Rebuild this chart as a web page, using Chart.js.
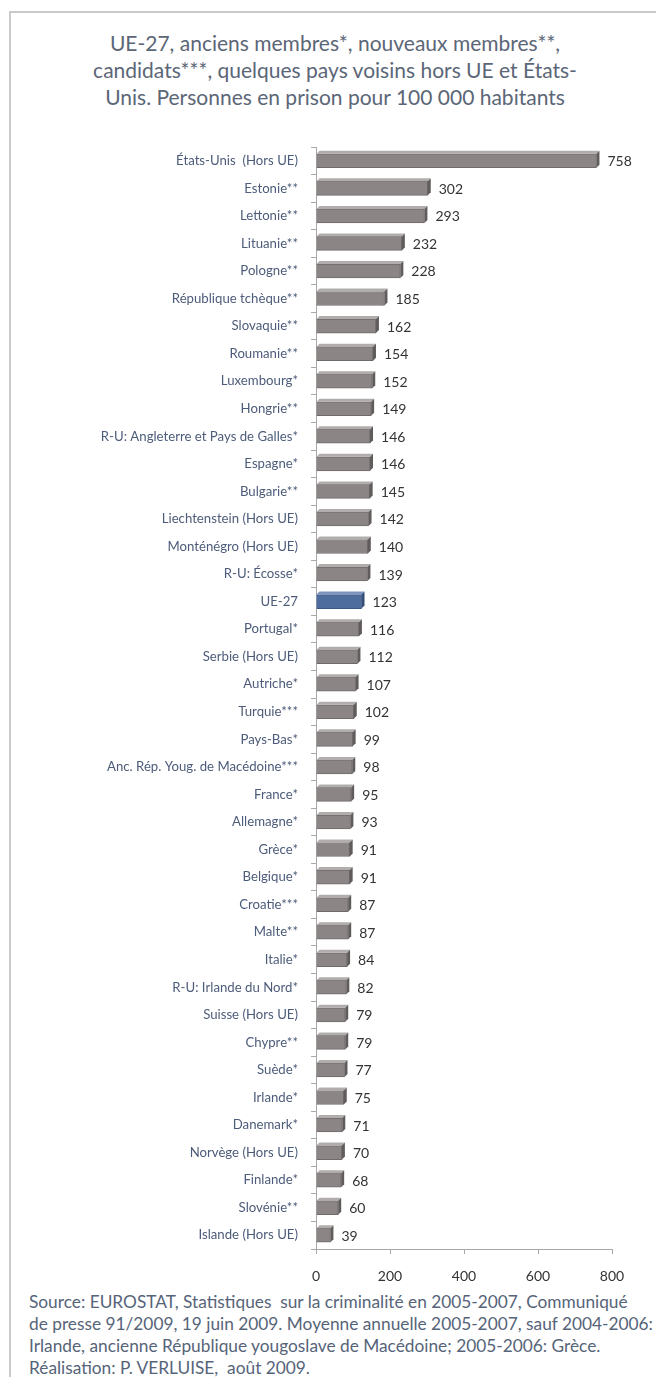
<!DOCTYPE html>
<html>
<head>
<meta charset="utf-8">
<script src="https://cdn.jsdelivr.net/npm/chart.js@4/dist/chart.umd.min.js"></script>
<style>
  html, body { margin:0; padding:0; background:#fff; }
  body { width:656px; height:1377px; position:relative; overflow:hidden; font-family: Lato, "Open Sans", sans-serif; }
  #frame { position:absolute; left:9px; top:11px; width:700px; height:1400px; border-left:2px solid #cacaca; border-top:2px solid #cacaca; }
  #title { position:absolute; left:14px; top:29px; width:642px; text-align:center; font-size:21px; line-height:27px; color:#5b6677; }
  #footer { position:absolute; left:29px; top:1291px; width:640px; font-size:17.3px; line-height:22px; color:#566479; white-space:nowrap; }
  #wrap { position:absolute; left:0; top:0; width:656px; height:1289px; }
</style>
</head>
<body>
<div id="frame"></div>
<div id="title">UE-27, anciens membres*, nouveaux membres**,<br>candidats***, quelques pays voisins hors UE et États-<br>Unis. Personnes en prison pour 100 000 habitants</div>
<div id="wrap"><canvas id="c"></canvas></div>
<div id="footer">Source: EUROSTAT, Statistiques&nbsp; sur la criminalité en 2005-2007, Communiqué<br>de presse 91/2009, 19 juin 2009. Moyenne annuelle 2005-2007, sauf 2004-2006:<br>Irlande, ancienne République yougoslave de Macédoine; 2005-2006: Grèce.<br>Réalisation: P. VERLUISE,&nbsp; août 2009.</div>
<script>
const categories = [
  "États-Unis  (Hors UE)", "Estonie**", "Lettonie**", "Lituanie**", "Pologne**",
  "République tchèque**", "Slovaquie**", "Roumanie**", "Luxembourg*", "Hongrie**",
  "R-U: Angleterre et Pays de Galles*", "Espagne*", "Bulgarie**", "Liechtenstein (Hors UE)", "Monténégro (Hors UE)",
  "R-U: Écosse*", "UE-27", "Portugal*", "Serbie (Hors UE)", "Autriche*",
  "Turquie***", "Pays-Bas*", "Anc. Rép. Youg. de Macédoine***", "France*", "Allemagne*",
  "Grèce*", "Belgique*", "Croatie***", "Malte**", "Italie*",
  "R-U: Irlande du Nord*", "Suisse (Hors UE)", "Chypre**", "Suède*", "Irlande*",
  "Danemark*", "Norvège (Hors UE)", "Finlande*", "Slovénie**", "Islande (Hors UE)"
];
const prisoners = [
  758, 302, 293, 232, 228,
  185, 162, 154, 152, 149,
  146, 146, 145, 142, 140,
  139, 123, 116, 112, 107,
  102, 99, 98, 95, 93,
  91, 91, 87, 87, 84,
  82, 79, 79, 77, 75,
  71, 70, 68, 60, 39
];
const xTicks = [0, 200, 400, 600, 800];
const highlight = "UE-27";

const barColors = categories.map(c => c === highlight ? "#4f6c9e" : "#8b8585");
const borderColors = categories.map(c => c === highlight ? "#3b5684" : "#6f6a6a");

const valueLabels = {
  id: "valueLabels",
  afterDatasetsDraw(chart) {
    const ctx = chart.ctx;
    const meta = chart.getDatasetMeta(0);
    ctx.save();
    meta.data.forEach((bar, i) => {
      const h = bar.height, top = bar.y - h/2, x0 = bar.base, x1 = bar.x, d = 3;
      ctx.fillStyle = categories[i] === highlight ? "#7c93bd" : "#b2adad";
      ctx.beginPath();
      ctx.moveTo(x0, top); ctx.lineTo(x0 + d, top - d); ctx.lineTo(x1 + d, top - d); ctx.lineTo(x1, top); ctx.closePath(); ctx.fill();
      ctx.fillStyle = categories[i] === highlight ? "#344d77" : "#615c5c";
      ctx.beginPath();
      ctx.moveTo(x1, top); ctx.lineTo(x1 + d, top - d); ctx.lineTo(x1 + d, top + h - d); ctx.lineTo(x1, top + h); ctx.closePath(); ctx.fill();
    });
    ctx.font = "14px Lato, sans-serif";
    ctx.fillStyle = "#333333";
    ctx.textBaseline = "middle";
    ctx.textAlign = "left";
    meta.data.forEach((bar, i) => {
      ctx.fillText(String(prisoners[i]), bar.x + 11, bar.y + 1);
    });
    ctx.restore();
  }
};

new Chart(document.getElementById("c"), {
  type: "bar",
  data: {
    labels: categories,
    datasets: [{
      data: prisoners,
      backgroundColor: barColors,
      borderColor: borderColors,
      borderWidth: 1,
      barThickness: 14
    }]
  },
  options: {
    indexAxis: "y",
    responsive: true,
    maintainAspectRatio: false,
    animation: false,
    layout: { padding: { top: 147, right: 44, left: 0, bottom: 0 } },
    plugins: { legend: { display: false }, tooltip: { enabled: false }, title: { display: false } },
    scales: {
      x: {
        min: 0, max: 800,
        afterBuildTicks(scale) { scale.ticks = xTicks.map(v => ({ value: v })); },
        afterFit(scale) { scale.height = 40; },
        ticks: { font: { family: "Lato", size: 14 }, color: "#333333", padding: 14 },
        grid: { drawOnChartArea: false, drawTicks: true, tickLength: 5, color: "#a8a8a8" },
        border: { color: "#a8a8a8" }
      },
      y: {
        afterFit(scale) { scale.width = 316; },
        ticks: { font: { family: "Lato", size: 13.2 }, color: "#4d5c7a", padding: 13, autoSkip: false },
        grid: { drawOnChartArea: false, drawTicks: true, tickLength: 5, color: "#a8a8a8", offset: true },
        border: { color: "#a8a8a8" }
      }
    }
  },
  plugins: [valueLabels]
});
</script>
</body>
</html>
